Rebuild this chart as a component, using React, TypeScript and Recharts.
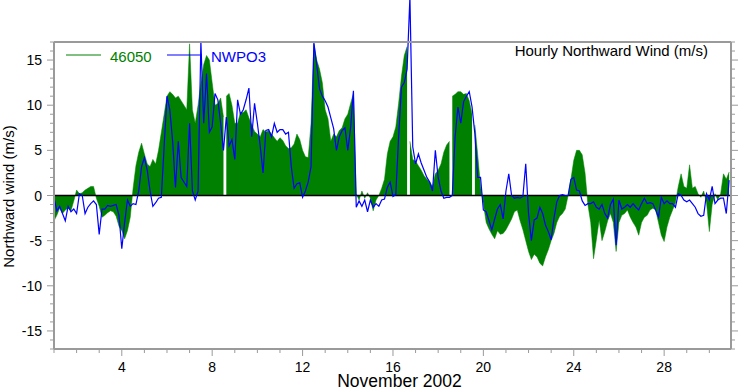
import { Area, ComposedChart, Legend, Line, ReferenceLine, XAxis, YAxis } from 'recharts';

// 3-hourly samples from 1 Nov 2002 00:00, one row per day (m/s)
const buoy46050 = [
  -2.8, -2.2, -1.4, -2.0, -1.6, -1.4, -1.7, -0.6,
  0.6, 0.2, 0.3, 0.6, 0.8, 1.0, 1.0, -0.3,
  -1.2, -2.4, -2.2, -1.9, -1.7, -1.8, -2.3, -3.4,
  -3.9, -4.8, -3.9, -2.4, 0.8, 3.3, 4.8, 5.8,
  4.6, 3.5, 3.2, 4.0, 3.5, 5.0, 7.0, 9.0,
  11.0, 11.5, 11.2, 10.8, 11.0, 10.5, 10.0, 9.5,
  16.8, 9.5, 8.0, 10.0, 12.5, 14.5, 15.5, 15.0,
  12.5, 10.0, 10.2, 10.8, 8.7, 11.0, 11.3, 10.0,
  8.0, 8.0, 9.2, 9.2, 9.5, 8.6, 7.8, 7.1,
  6.8, 6.5, 7.3, 7.0, 7.2, 6.8, 6.4, 6.0,
  6.4, 6.1, 5.5, 5.2, 5.3, 5.7, 6.8, 6.2,
  5.0, 4.3, 4.2, 8.0, 16.8, 15.0, 14.0, 12.5,
  9.5, 8.5, 6.0, 6.8, 6.5, 7.2, 7.5, 8.5,
  9.0, 10.2, 11.3, 0.2, -0.5, 0.5, -0.3, 0.3,
  -0.3, -1.7, -0.5, 0.0, 0.8, 1.8, 4.6, 6.0,
  6.5, 7.6, 10.2, 13.2, 15.5, 16.5, 6.0, 4.0,
  3.8, 3.3, 2.8, 2.2, 1.8, 1.5, 1.0, 2.4,
  2.8, 3.5, 4.8, 5.6, 6.0, 11.0, 11.2, 11.5,
  11.5, 11.2, 11.3, 10.5, 9.0, 7.8, 4.5, 1.0,
  -0.9, -3.0, -3.7, -4.3, -4.8, -3.9, -4.3, -4.2,
  -3.8, -3.2, -2.6, -1.8, -1.6, -2.8, -3.8, -5.0,
  -6.2, -7.1, -6.5, -6.8, -7.5, -7.8, -6.8, -6.0,
  -5.0, -4.2, -3.0, -2.3, -2.0, -1.5, 0.0, 1.8,
  3.9, 5.0, 5.0, 4.5, 2.5, -1.0, -3.0, -7.0,
  -4.9, -2.7, -5.0, -4.0, -2.8, -2.0, -3.0, -6.2,
  -3.0, -2.2, -2.0, -1.6, -2.4, -3.0, -3.5, -4.4,
  -3.0, -2.4, -2.2, -1.6, -1.4, -1.6, -3.0, -4.4,
  -5.1, -3.5, -2.4, -1.6, -0.8, 1.0, 2.4, 1.0,
  0.8, 3.4, 0.8, 1.0, 0.2, -0.2, 0.5, -0.8,
  -4.0, -1.0, 0.2, -0.5, 0.2, 2.4, 1.8, 2.6,
];

const nwpo3 = [
  -0.2, -1.7, -1.2, -2.0, -2.8, -1.2, -1.8, -1.5,
  -2.0, 0.2, 0.0, -2.0, -1.3, -0.9, -0.6, -1.0,
  -4.3, -1.5, -1.5, -1.1, -1.2, -1.1, -1.0, -2.2,
  -5.9, -3.0, -0.5, -1.2, -0.9, -1.0, 0.5, 3.2,
  4.2, 2.8, 0.5, -1.2, -0.8, -0.3, -0.2, 5.5,
  11.0, 9.5, 6.0, 0.9, 6.0, 2.0, 1.5, 1.0,
  8.0, 0.5, -0.5, 0.5, 17.0, 8.0, 13.5, 7.0,
  7.6, 11.3, 10.6, 8.0, 5.0, 8.7, 5.5, 6.2,
  4.0, 10.6, 9.0, 9.5, 10.6, 11.9, 6.5, 10.2,
  8.0, 5.5, 2.5, 7.2, 7.3, 6.5, 8.0, 7.0,
  7.3, 7.3, 6.8, 7.0, 3.2, 0.8, 1.3, 1.4,
  -0.2, 0.5, 1.5, 3.2, 16.9, 14.5, 11.8, 11.0,
  10.5, 9.8, 8.6, 7.4, 5.0, 6.5, 7.2, 7.5,
  5.0, 7.5, 11.6, -1.3, -0.6, -1.2, -0.5, -1.8,
  -0.5, -1.3, -0.9, -1.2, -0.5, -0.4, 0.9, 1.5,
  -0.1, 0.1, 6.5, 12.0, 12.5, 14.0, 22.0, 5.4,
  3.5, 4.6, 3.6, 2.8, 2.0, 1.5, 0.5, 5.0,
  2.0, 0.5, -0.3, -0.2, -0.2, 0.0, 6.5, 9.8,
  8.0, 10.4, 11.0, 11.5, 9.8, 6.8, 2.0, 2.0,
  -1.6, -1.8, -2.8, -3.8, -2.6, -1.5, -1.0, -2.6,
  0.5, 2.4, 0.0, -0.3, -0.2, -0.3, -0.1, 3.5,
  -2.0, -5.0, -2.7, -2.5, -1.3, -2.0, -3.3, -4.0,
  -4.9, -2.5, -0.7, 0.0, 0.1, 0.0, 0.0, 1.8,
  2.0, 0.6, 0.5, -0.6, -1.1, -0.9, -0.9, -0.7,
  -1.3, -1.5, -1.0, -2.0, -2.5, -1.0, -0.4, -5.5,
  -0.5, -1.5, -1.3, -1.0, -1.3, -0.9, -1.3, -1.6,
  -0.9, -0.3, -0.9, -0.8, -0.9, -1.6, -2.4, -0.2,
  -0.9, -0.6, -0.9, -0.9, -1.3, 0.2, 0.0, -0.5,
  -0.7, -0.5, -0.9, -1.3, -2.0, -2.3, -2.2, 0.2,
  -0.5, 1.0, -0.9, -0.5, -0.3, -0.3, -2.0, 1.7,
];

// hours with no buoy report
const buoy46050GapHours = [181.5, 376.5, 421.5, 445.5];

const SAMPLE_STEP_HOURS = 3;
const dayTicks = [1, 2, 3, 4, 5, 6, 7, 8, 9, 10, 11, 12, 13, 14, 15, 16, 17, 18, 19, 20, 21, 22, 23, 24, 25, 26, 27, 28, 29, 30];
const labelledDays = [4, 8, 12, 16, 20, 24, 28];
const windTicks = [-17, -16, -15, -14, -13, -12, -11, -10, -9, -8, -7, -6, -5, -4, -3, -2, -1, 0, 1, 2, 3, 4, 5, 6, 7, 8, 9, 10, 11, 12, 13, 14, 15, 16, 17];
const labelledWind = [-15, -10, -5, 0, 5, 10, 15];

const FRAME = '#9a9a9a';
const FONT = '"Liberation Sans", Arial, Helvetica, sans-serif';

type Row = { hour: number; wind: number | null };

const toRows = (values: number[], gaps: number[] = []): Row[] =>
  [
    ...values.map((v, i) => ({ hour: i * SAMPLE_STEP_HOURS, wind: v })),
    ...gaps.map((h) => ({ hour: h, wind: null })),
  ].sort((a, b) => a.hour - b.hour);

const buoyRows = toRows(buoy46050, buoy46050GapHours);
const stationRows = toRows(nwpo3);
const dayTickHours = dayTicks.map((d) => (d - 1) * 24);

const dayOf = (hour: number) => Math.round(hour / 24) + 1;

const BottomTick = ({ x, y, payload }: any) => {
  const day = dayOf(payload.value);
  const major = labelledDays.includes(day);
  return (
    <g>
      <line x1={x} x2={x} y1={y} y2={y + (major ? 7 : 4)} stroke={FRAME} />
      {major && (
        <text x={x} y={y + 23} textAnchor="middle" fontSize={14} fill="#000">
          {day}
        </text>
      )}
    </g>
  );
};

const TopTick = ({ x, y, payload }: any) => {
  const major = labelledDays.includes(dayOf(payload.value));
  return <line x1={x} x2={x} y1={y} y2={y - (major ? 7 : 4)} stroke={FRAME} />;
};

const LeftTick = ({ x, y, payload }: any) => {
  const major = labelledWind.includes(payload.value);
  return (
    <g>
      <line x1={x} x2={x - (major ? 7 : 4)} y1={y} y2={y} stroke={FRAME} />
      {major && (
        <text x={x - 12} y={y + 5} textAnchor="end" fontSize={14} fill="#000">
          {payload.value}
        </text>
      )}
    </g>
  );
};

const RightTick = ({ x, y, payload }: any) => {
  const major = labelledWind.includes(payload.value);
  return <line x1={x} x2={x + (major ? 7 : 4)} y1={y} y2={y} stroke={FRAME} />;
};

const renderLegend = ({ payload }: any) => (
  <svg width={260} height={24}>
    {(payload || []).map((entry: any, i: number) => (
      <g key={entry.value} transform={`translate(${i * 101},0)`}>
        <line x1={6} x2={41} y1={11} y2={11} stroke={entry.color} strokeWidth={1} />
        <text x={50} y={18} fill={entry.color} fontSize={15} fontFamily={FONT}>
          {entry.value}
        </text>
      </g>
    ))}
  </svg>
);

const App = () => (
  <div style={{ position: 'absolute', left: 0, top: 0, width: 739, height: 390, fontFamily: FONT, background: '#fff' }}>
    <style>{'.nwpo3-line, .nwpo3-line * { clip-path: none !important; }'}</style>
    <ComposedChart width={739} height={390} margin={{ top: 0, right: 0, bottom: 0, left: 0 }}>
      <XAxis
        dataKey="hour"
        type="number"
        domain={[0, 719]}
        allowDataOverflow
        ticks={dayTickHours}
        interval={0}
        tick={BottomTick}
        tickLine={false}
        tickSize={0}
        tickMargin={0}
        height={41}
        axisLine={{ stroke: FRAME, strokeWidth: 2 }}
        label={({ viewBox }: any) => (
          <text x={viewBox.x + viewBox.width / 2 + 7} y={viewBox.y + 38} textAnchor="middle" fontSize={17.5} fill="#000">
            November 2002
          </text>
        )}
      />
      <XAxis
        xAxisId="top"
        orientation="top"
        type="number"
        domain={[0, 719]}
        allowDataOverflow
        ticks={dayTickHours}
        interval={0}
        tick={TopTick}
        tickLine={false}
        tickSize={0}
        tickMargin={0}
        height={42}
        axisLine={{ stroke: FRAME, strokeWidth: 2 }}
      />
      <YAxis
        type="number"
        domain={[-17, 17]}
        allowDataOverflow
        ticks={windTicks}
        interval={0}
        tick={LeftTick}
        tickLine={false}
        tickSize={0}
        tickMargin={0}
        width={54}
        axisLine={{ stroke: FRAME, strokeWidth: 2 }}
        label={({ viewBox }: any) => {
          const cx = 13.5;
          const cy = viewBox.y + viewBox.height / 2 + 1;
          return (
            <text x={cx} y={cy} transform={`rotate(-90 ${cx} ${cy})`} textAnchor="middle" fontSize={15} fill="#000">
              Northward wind (m/s)
            </text>
          );
        }}
      />
      <YAxis
        yAxisId="right"
        orientation="right"
        type="number"
        domain={[-17, 17]}
        allowDataOverflow
        ticks={windTicks}
        interval={0}
        tick={RightTick}
        tickLine={false}
        tickSize={0}
        tickMargin={0}
        width={8}
        axisLine={{ stroke: FRAME, strokeWidth: 2 }}
      />
      <Legend
        layout="horizontal"
        verticalAlign="middle"
        align="center"
        content={renderLegend}
        wrapperStyle={{ position: 'absolute', left: 60, top: 44, width: 260, height: 24 }}
      />
      <Area
        data={buoyRows}
        dataKey="wind"
        name="46050"
        type="linear"
        baseValue={0}
        stroke="#008000"
        strokeWidth={0.5}
        fill="#008000"
        fillOpacity={1}
        dot={false}
        activeDot={false}
        isAnimationActive={false}
      />
      <ReferenceLine y={0} stroke="#000" strokeWidth={1.6} />
      <Line
        className="nwpo3-line"
        data={stationRows}
        dataKey="wind"
        name="NWPO3"
        type="linear"
        stroke="#0000ff"
        strokeWidth={1.2}
        dot={false}
        activeDot={false}
        isAnimationActive={false}
      />
    </ComposedChart>
    <svg width={739} height={390} style={{ position: 'absolute', left: 0, top: 0, pointerEvents: 'none' }}>
      <text x={708} y={55.5} textAnchor="end" fontSize={15} fill="#000" fontFamily={FONT}>
        Hourly Northward Wind (m/s)
      </text>
    </svg>
  </div>
);

export default App;
